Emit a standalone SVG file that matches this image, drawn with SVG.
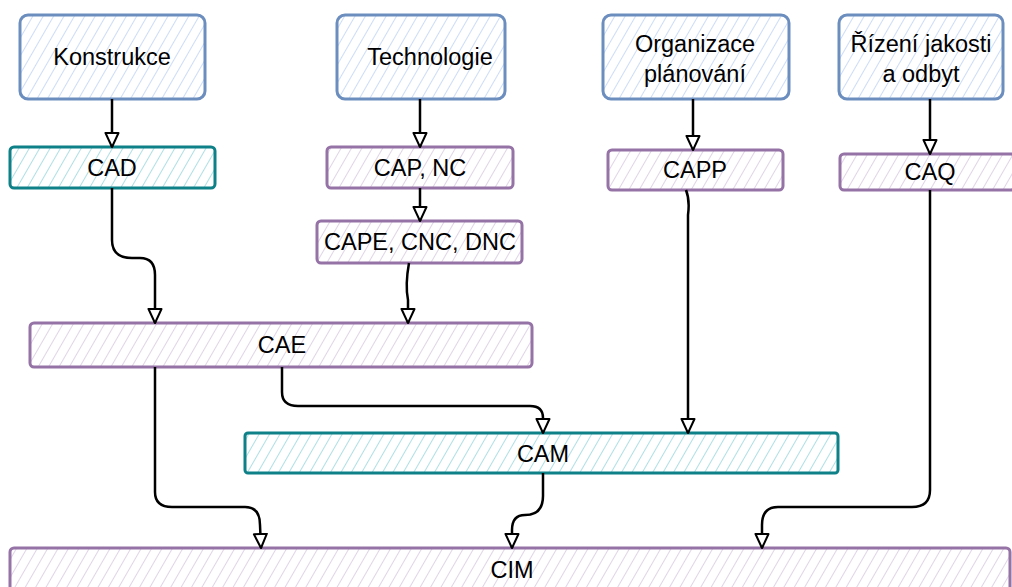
<svg xmlns="http://www.w3.org/2000/svg" width="1012" height="587" viewBox="0 0 1012 587">
<defs>
<pattern id="hb" patternUnits="userSpaceOnUse" width="9" height="9" patternTransform="rotate(30)"><rect width="9" height="9" fill="#ffffff"/><line x1="0" y1="0" x2="0" y2="9" stroke="#bfd5f5" stroke-width="1.6"/></pattern>
<pattern id="ht" patternUnits="userSpaceOnUse" width="9" height="9" patternTransform="rotate(30)"><rect width="9" height="9" fill="#ffffff"/><line x1="0" y1="0" x2="0" y2="9" stroke="#9ad9dd" stroke-width="1.6"/></pattern>
<pattern id="hp" patternUnits="userSpaceOnUse" width="9" height="9" patternTransform="rotate(30)"><rect width="9" height="9" fill="#ffffff"/><line x1="0" y1="0" x2="0" y2="9" stroke="#d8c9e1" stroke-width="1.6"/></pattern>
<marker id="arr" viewBox="0 0 16 16" refX="15" refY="8" markerWidth="16" markerHeight="16" markerUnits="userSpaceOnUse" orient="auto"><path d="M1,1.5 L15,8 L1,14.5 Z" fill="#ffffff" stroke="#000000" stroke-width="2" stroke-linejoin="round"/></marker>
</defs>
<style>
.blue{fill:url(#hb);stroke:#6c8ebf;stroke-width:3}
.teal{fill:url(#ht);stroke:#0e8088;stroke-width:3}
.purp{fill:url(#hp);stroke:#9673a6;stroke-width:3}
text{font-family:"Liberation Sans",Arial,sans-serif;font-size:23.5px;fill:#000000;text-anchor:middle}
.con path{fill:none;stroke:#000000;stroke-width:2.5;marker-end:url(#arr)}
</style>
<rect width="1012" height="587" fill="#ffffff"/>
<g id="konstrukce"><rect class="blue" x="20" y="15" width="185" height="84" rx="8"/><text x="112" y="65">Konstrukce</text></g>
<g id="technologie"><rect class="blue" x="337" y="15" width="168" height="84" rx="8"/><text x="430" y="65">Technologie</text></g>
<g id="organizace"><rect class="blue" x="603" y="15" width="186" height="84" rx="8"/><text x="695" y="52">Organizace</text><text x="695" y="82">plánování</text></g>
<g id="rizeni"><rect class="blue" x="839" y="15" width="164" height="84" rx="8"/><text x="921" y="52">Řízení jakosti</text><text x="921" y="82">a odbyt</text></g>
<g id="cad"><rect class="teal" x="10" y="147" width="205" height="41" rx="4"/><text x="112" y="176">CAD</text></g>
<g id="capnc"><rect class="purp" x="327" y="147" width="186" height="41" rx="4"/><text x="420" y="176">CAP, NC</text></g>
<g id="capecnc"><rect class="purp" x="317" y="221" width="205" height="42" rx="4"/><text x="420" y="250">CAPE, CNC, DNC</text></g>
<g id="capp"><rect class="purp" x="608" y="150" width="175" height="40" rx="4"/><text x="695" y="178">CAPP</text></g>
<g id="caq"><rect class="purp" x="840" y="154" width="175" height="36" rx="4"/><text x="930" y="180">CAQ</text></g>
<g id="cae"><rect class="purp" x="30" y="323" width="502" height="44" rx="4"/><text x="282" y="353">CAE</text></g>
<g id="cam"><rect class="teal" x="245" y="433" width="593" height="40" rx="3"/><text x="543" y="462">CAM</text></g>
<g id="cim"><rect class="purp" x="10" y="548" width="1000" height="50" rx="4"/><text x="512" y="578">CIM</text></g>
<g class="con" id="connectors">
<path d="M112,99 L112,147"/>
<path d="M420,99 L420,147"/>
<path d="M420,188 L420,221"/>
<path d="M693,99 L693,150"/>
<path d="M930,99 L930,154"/>
<path d="M112,188 L112,240 Q112,258 132,258 L140,258 Q155,258 155,275 L155,323"/>
<path d="M409,263 Q405,285 408,300 L408,323"/>
<path d="M686,190 Q690,200 688,215 L688,433"/>
<path d="M282,367 L282,392 Q282,406 298,406 L530,406 Q543,406 543,418 L543,433"/>
<path d="M155,367 L155,492 Q155,507 172,507 L245,507 Q260,507 260,525 L261,548"/>
<path d="M543,473 L543,496 Q543,515 525,515 Q512,515 512,530 L512,548"/>
<path d="M930,190 L930,490 Q930,507 912,507 L778,507 Q762,507 762,525 L762,548"/>
</g>
</svg>
